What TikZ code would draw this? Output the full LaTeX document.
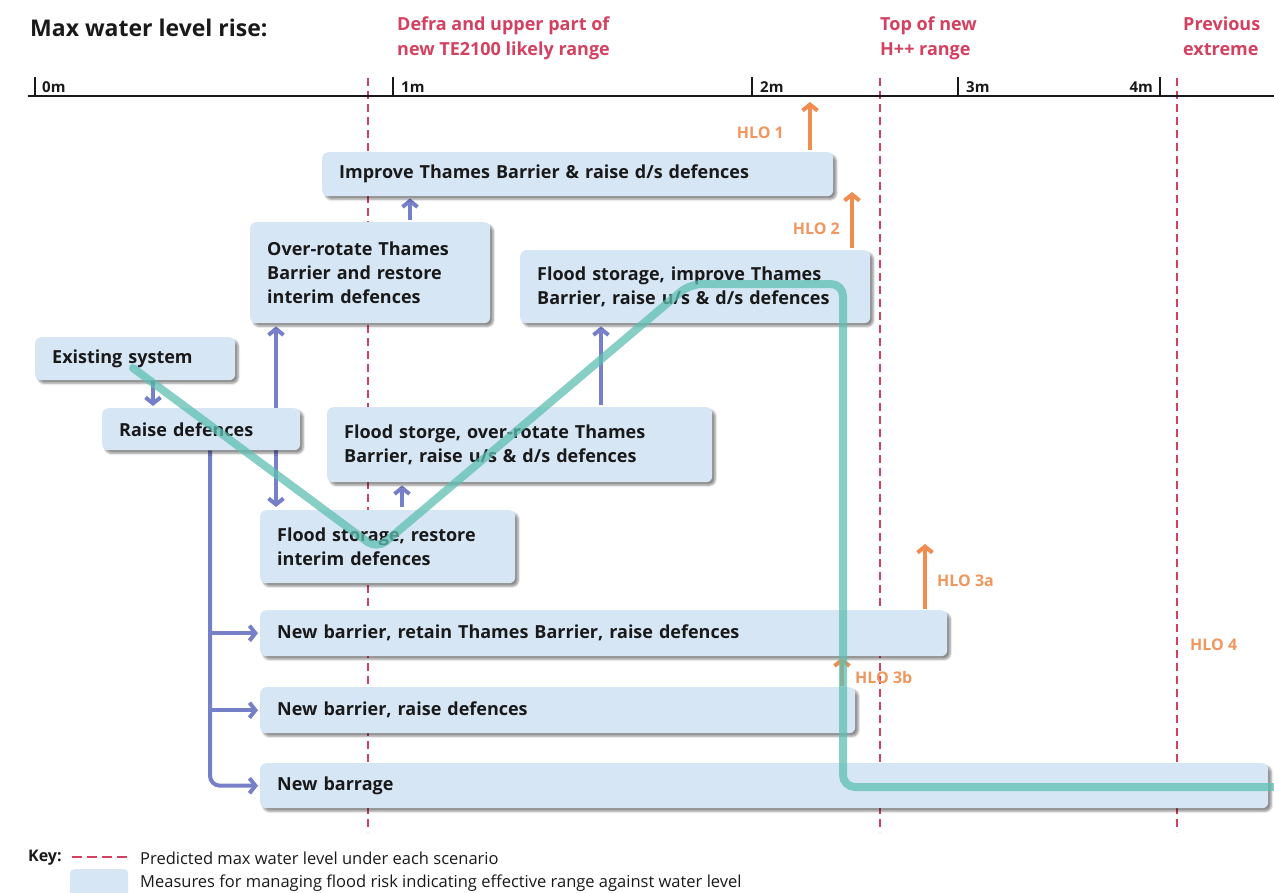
\documentclass[tikz,border=0pt]{standalone}
\usepackage{fontspec}
\setmainfont{Open Sans}
\usetikzlibrary{arrows.meta,shadows.blur,calc}
\pgfdeclarelayer{bg}
\pgfsetlayers{bg,main}
\definecolor{boxblue}{RGB}{214,230,245}
\definecolor{lvlred}{RGB}{212,64,96}
\definecolor{hlocol}{RGB}{240,140,80}
\definecolor{hlotext}{RGB}{240,150,95}
\definecolor{linkcol}{RGB}{118,128,200}
\definecolor{pathcol}{RGB}{95,190,178}
\definecolor{ink}{RGB}{25,25,25}
\begin{document}
\begin{tikzpicture}[x=1pt,y=-1pt,
  box/.style={fill=boxblue, rounded corners=6pt, anchor=north west, inner xsep=17pt, inner ysep=3pt,
    align=left, font=\bfseries\fontsize{18}{24}\selectfont, text=ink,
    blur shadow={shadow xshift=3pt, shadow yshift=-3pt, shadow blur steps=5, shadow opacity=45}},
  level/.style={lvlred, dash pattern=on 8pt off 5pt, line width=2pt},
  linkarrow/.style={linkcol, line width=4pt, -{Straight Barb[length=6pt,width=15pt]}},
  linkboth/.style={linkcol, line width=4pt, {Straight Barb[length=6pt,width=15pt]}-{Straight Barb[length=6pt,width=15pt]}},
  hloarrow/.style={hlocol, line width=4pt, -{Straight Barb[length=6pt,width=15pt]}},
  hlolabel/.style={text=hlotext, font=\bfseries\fontsize{16}{18}\selectfont, inner sep=0pt},
  toplabel/.style={text=lvlred, anchor=north west, align=left, inner sep=0pt, font=\bfseries\fontsize{18}{25}\selectfont},
  axislabel/.style={text=ink, anchor=west, inner sep=0pt, font=\bfseries\fontsize{15}{17}\selectfont},
  greenpath/.style={pathcol, line width=8pt, opacity=0.75, rounded corners=12pt, line cap=round},
  keytext/.style={text=ink, anchor=west, inner sep=0pt, font=\fontsize{16.5}{18}\selectfont}
]
\useasboundingbox (0,0) rectangle (1274,892);

% header
\node[anchor=west, inner sep=0pt, text=ink, font=\bfseries\fontsize{23}{26}\selectfont] (title) at (30,28) {Max water level rise:};
\node[toplabel] (defra) at (397,17) {Defra and upper part of\\new TE2100 likely range};
\node[toplabel] (hpp) at (880,17) {Top of new\\H++ range};
\node[toplabel] (prev) at (1183,17) {Previous\\extreme};

% axis
\coordinate (axL) at (28,96);
\coordinate (axR) at (1274,96);
\coordinate (t0) at (35,77);
\coordinate (t1) at (393,77);
\coordinate (t2) at (752,77);
\coordinate (t3) at (958,77);
\coordinate (t4) at (1160,77);
\draw[ink, line width=1.6pt] (axL) -- (axR);
\foreach \t in {t0,t1,t2,t3,t4} \draw[ink, line width=1.3pt] (\t) -- (\t |- axL);
\node[axislabel] (l0) at (42,87) {0m};
\node[axislabel] (l1) at (401,87) {1m};
\node[axislabel] (l2) at (760,87) {2m};
\node[axislabel] (l3) at (966,87) {3m};
\node[axislabel, anchor=east] (l4) at (1153,87) {4m};

% boxes
\node[box, text width=477pt, minimum height=44pt] (improve) at (322,152) {Improve Thames Barrier \& raise d/s defences};
\node[box, text width=206pt, minimum height=101pt] (over) at (250,222) {Over-rotate Thames\\Barrier and restore\\interim defences};
\node[box, text width=316pt, minimum height=73pt] (fsimp) at (520,250) {Flood storage, improve Thames\\Barrier, raise u/s \& d/s defences};
\node[box, text width=166pt, minimum height=43pt] (exist) at (35,337) {Existing system};
\node[box, text width=164pt, minimum height=42pt] (raise) at (102,408) {Raise defences};
\node[box, text width=351pt, minimum height=75pt] (fsover) at (327,407) {Flood storge, over-rotate Thames\\Barrier, raise u/s \& d/s defences};
\node[box, text width=221pt, minimum height=73pt] (fsrest) at (260,510) {Flood storage, restore\\interim defences};
\node[box, text width=653pt, minimum height=46pt] (nb1) at (260,610) {New barrier, retain Thames Barrier, raise defences};
\node[box, text width=561pt, minimum height=46pt] (nb2) at (260,687) {New barrier, raise defences};
\node[box, text width=974pt, minimum height=45pt] (barrage) at (260,763) {New barrage};

\begin{pgfonlayer}{bg}
  % level lines
  \foreach \x/\n in {368/a,880/b,1177/c} {
    \coordinate (lv\n top) at (\x,78);
    \coordinate (lv\n bot) at (\x,832);
    \draw[level] (lv\n top) -- (lv\n bot);
  }
  % purple links
  \coordinate (ex) at ([xshift=118pt]exist.south west);
  \draw[linkarrow, shorten >=2pt, shorten <=1pt] (ex) -- (ex |- raise.north);
  \coordinate (dv) at ([xshift=26pt]over.south west);
  \draw[linkboth, shorten >=3pt, shorten <=3pt] (dv) -- (dv |- fsrest.north);
  \coordinate (ov) at ([xshift=160pt]over.north west);
  \draw[linkarrow, shorten >=2pt, shorten <=2pt] (ov) -- (ov |- improve.south);
  \coordinate (fr) at ([xshift=142pt]fsrest.north west);
  \draw[linkarrow, shorten >=3pt, shorten <=3pt] (fr) -- (fr |- fsover.south);
  \coordinate (fo) at ([xshift=274pt]fsover.north west);
  \draw[linkarrow, shorten >=3pt, shorten <=2pt] (fo) -- (fo |- fsimp.south);
  \coordinate (br) at ([xshift=108pt]raise.south west);
  \draw[linkarrow, rounded corners=10pt, shorten >=2pt] (br) |- (barrage.west);
  \draw[linkarrow, shorten >=2pt] (br |- nb1.west) -- (nb1.west);
  \draw[linkarrow, shorten >=2pt] (br |- nb2.west) -- (nb2.west);
\end{pgfonlayer}

% HLO arrows
\coordinate (h1s) at ([xshift=488pt]improve.north west);
\coordinate (h1e) at (810,102);
\draw[hloarrow, shorten <=2pt] (h1s) -- (h1e);
\node[hlolabel, anchor=east] (hlo1) at (784,133) {HLO 1};
\coordinate (h2s) at ([xshift=332pt]fsimp.north west);
\coordinate (h2e) at (852,192);
\draw[hloarrow, shorten <=2pt] (h2s) -- (h2e);
\node[hlolabel, anchor=east] (hlo2) at (840,229) {HLO 2};
\coordinate (h3s) at ([xshift=665pt]nb1.north west);
\coordinate (h3e) at (925,544);
\draw[hloarrow, shorten <=1pt] (h3s) -- (h3e);
\node[hlolabel, anchor=west] (hlo3a) at (937,581) {HLO 3a};
\coordinate (h3b) at ([xshift=582pt]nb2.north west);
\draw[hloarrow, shorten <=1pt, shorten >=1pt] (h3b) -- (h3b |- nb1.south);
\node[hlolabel, anchor=west] (hlo3b) at (855,677) {HLO 3b};
\node[hlolabel, anchor=west] (hlo4) at (1190,645) {HLO 4};

% green pathway
\coordinate (g0) at (133,368);
\coordinate (g1) at (377,549);
\coordinate (g2) at (690,284);
\coordinate (g3) at (843,284);
\coordinate (g4) at (843,787);
\coordinate (g5) at (1290,787);
\draw[greenpath] (g0) -- (g1) -- (g2) -- (g3) -- (g4) -- (g5);

% key
\node[anchor=west, inner sep=0pt, text=ink, font=\bfseries\fontsize{16}{18}\selectfont] (key) at (28,858) {Key:};
\coordinate (k1) at (72,857);
\coordinate (k2) at (128,857);
\draw[lvlred, line width=2.5pt, dash pattern=on 10pt off 5pt] (k1) -- (k2);
\node[keytext] (kt1) at (140,858) {Predicted max water level under each scenario};
\node[fill=boxblue, rounded corners=4pt, minimum width=58pt, minimum height=28pt, anchor=north west, inner sep=0pt] (kbox) at (70,869) {};
\node[keytext] (kt2) at (140,883) {Measures for managing flood risk indicating effective range against water level};
\end{tikzpicture}
\end{document}
